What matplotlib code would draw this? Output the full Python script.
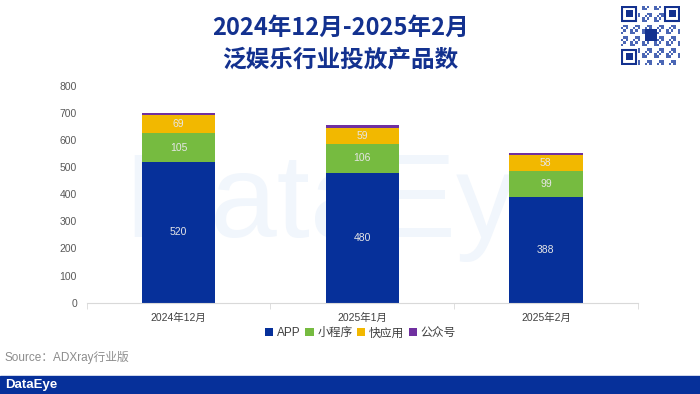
import numpy as np
import matplotlib.pyplot as plt
from matplotlib.patches import Rectangle

plt.rcParams['font.family'] = ['Liberation Sans', 'Noto Sans CJK SC', 'DejaVu Sans']

# data
months = ['2024年12月', '2025年1月', '2025年2月']
app = [520, 480, 388]
mini = [105, 106, 99]
quick = [69, 59, 58]
official = [5, 10, 9]
series_names = ['APP', '小程序', '快应用', '公众号']
colors = ['#06309a', '#76bb40', '#f2b800', '#7030a0']

fig = plt.figure(figsize=(7, 3.94), dpi=100)
fig.patch.set_facecolor('white')

# faint watermark behind the bars
fig.text(0.505, 0.398, 'DataEye', fontsize=86, color='#f1f6fc', ha='center',
         va='baseline', zorder=-1)

ax = fig.add_axes([0.124, 0.232, 0.787, 0.55])
ax.patch.set_alpha(0)

x = np.arange(len(months))
w = 0.4
bottom = np.zeros(len(months))
for vals, name, c in zip([app, mini, quick, official], series_names, colors):
    ax.bar(x, vals, w, bottom=bottom, color=c, label=name, zorder=2)
    if name != '公众号':
        for xi, b, v in zip(x, bottom, vals):
            ax.text(xi, b + v / 2, str(v), ha='center', va='center',
                    fontsize=7.5, color='#e6e6e6', zorder=3)
    bottom += np.array(vals)

ax.set_xlim(-0.5, 2.5)
ax.set_ylim(0, 800)
ax.set_yticks(range(0, 801, 100))
ax.set_xticks(x)
ax.set_xticklabels(months)
ax.set_xticks([-0.5, 0.5, 1.5, 2.5], minor=True)
ax.tick_params(axis='x', which='major', length=0, labelsize=7.5, colors='#404040', pad=7)
ax.tick_params(axis='x', which='minor', length=4, color='#d9d9d9')
ax.tick_params(axis='y', length=0, labelsize=7.5, colors='#595959', pad=7)
for s in ['top', 'right', 'left']:
    ax.spines[s].set_visible(False)
ax.spines['bottom'].set_color('#d9d9d9')

ax.legend(loc='center', bbox_to_anchor=(0.497, -0.142), ncol=4, frameon=False,
          fontsize=8.5, handlelength=0.7, handleheight=0.7, handletextpad=0.3,
          columnspacing=0.4, labelcolor='#404040')

# title
fig.text(0.486, 0.929, '2024年12月-2025年2月', ha='center', va='center', fontsize=17,
         fontweight='bold', color='#13318f', family=['Noto Sans CJK SC'])
fig.text(0.486, 0.848, '泛娱乐行业投放产品数', ha='center', va='center', fontsize=17,
         fontweight='bold', color='#13318f', family=['Noto Sans CJK SC'])

# source and footer band
fig.text(0.007, 0.093, 'Source：ADXray行业版', ha='left', va='center', fontsize=8.5,
         color='#8c8c8c', family=['Liberation Sans', 'Noto Sans CJK SC'])
fig.patches.append(Rectangle((0, 0), 1, 0.046, transform=fig.transFigure,
                             color='#06309a', zorder=1))
fig.text(0.008, 0.022, 'DataEye', ha='left', va='center', fontsize=9.5,
         color='white', fontweight='bold', zorder=2)

# QR code placeholder
qa = fig.add_axes([0.887, 0.835, 0.085, 0.151])
qa.set_xlim(0, 25)
qa.set_ylim(0, 25)
qa.axis('off')
ii, jj = np.indices((25, 25))
pattern = ((ii * 7 + jj * 3 + ii * jj) % 5 < 2)
for r, cidx in zip(*np.nonzero(pattern)):
    qa.add_patch(Rectangle((cidx, r), 1, 1, color='#4a66b5', lw=0))
for (fx, fy) in [(0, 18), (18, 18), (0, 0)]:
    qa.add_patch(Rectangle((fx, fy), 7, 7, color='white', lw=0))
    qa.add_patch(Rectangle((fx + 0.5, fy + 0.5), 6, 6, fill=False, ec='#13318f', lw=1.5))
    qa.add_patch(Rectangle((fx + 2, fy + 2), 3, 3, color='#13318f', lw=0))
qa.add_patch(Rectangle((10, 10), 5, 5, color='#13318f', lw=0))

fig.savefig('out.png', dpi=100)
